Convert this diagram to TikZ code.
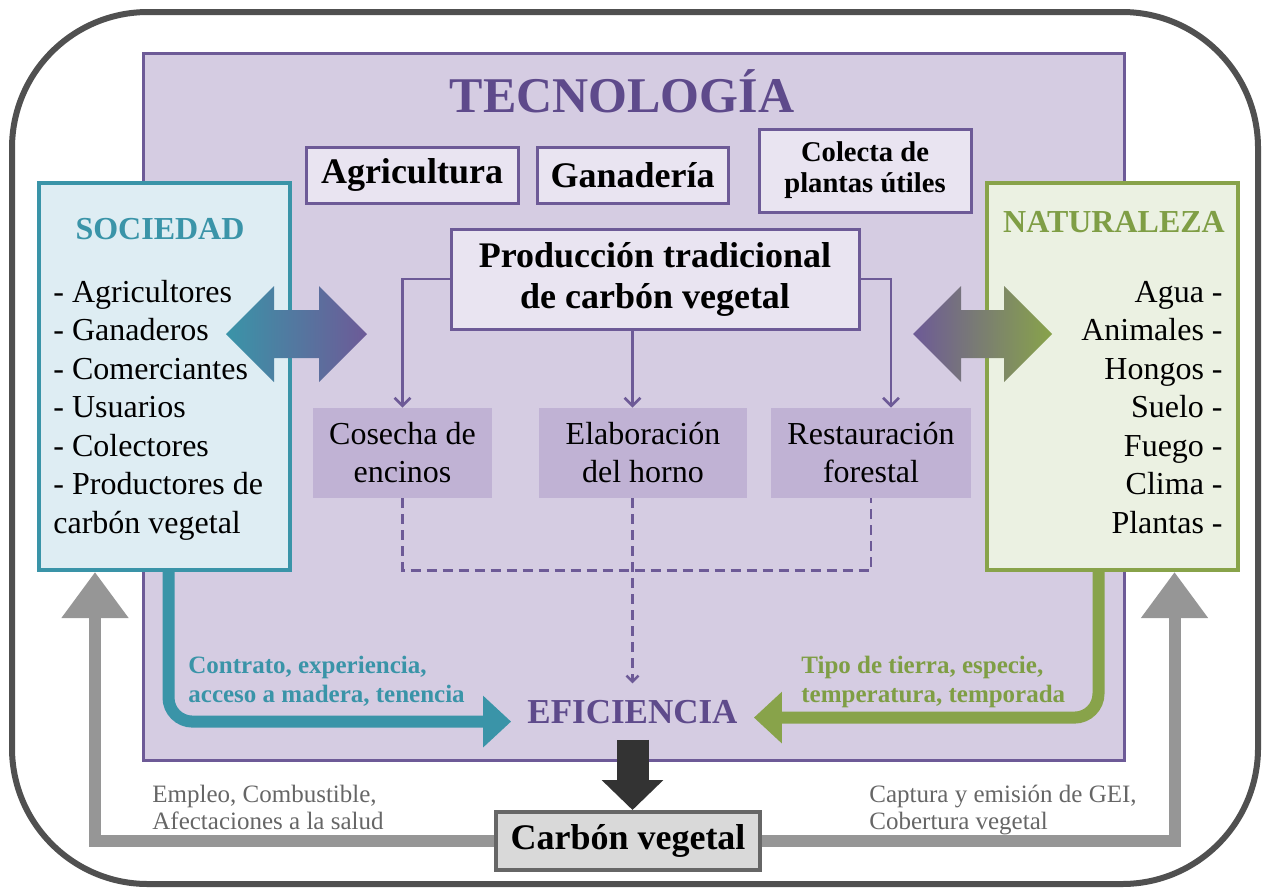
\documentclass[tikz,border=0pt]{standalone}
\usepackage{fontspec}
\setmainfont{Liberation Serif}
\usetikzlibrary{arrows.meta}

\definecolor{framegray}{HTML}{505050}
\definecolor{techfill}{HTML}{D5CCE2}
\definecolor{techline}{HTML}{6D5A97}
\definecolor{techtext}{HTML}{5E4A8B}
\definecolor{boxfill}{HTML}{E9E4F1}
\definecolor{stagefill}{HTML}{C0B2D4}
\definecolor{socfill}{HTML}{DEEDF3}
\definecolor{socline}{HTML}{3A94A8}
\definecolor{natfill}{HTML}{EBF1E2}
\definecolor{natline}{HTML}{88A34A}
\definecolor{nattext}{HTML}{7F9E45}
\definecolor{backgray}{HTML}{969696}
\definecolor{labelgray}{HTML}{666666}
\definecolor{carbonfill}{HTML}{D9D9D9}
\definecolor{carbonline}{HTML}{666666}
\definecolor{arrowblack}{HTML}{333333}

\tikzset{
  outerframe/.style={draw=framegray, line width=3pt, rounded corners=68pt},
  techarea/.style={rectangle, draw=techline, fill=techfill, line width=1.5pt},
  techtitle/.style={text=techtext, font=\fontsize{25}{28}\selectfont\bfseries},
  techbox/.style={rectangle, draw=techline, fill=boxfill, line width=1.5pt, align=center, inner sep=0pt, font=\fontsize{18}{20.5}\selectfont\bfseries},
  stagebox/.style={rectangle, fill=stagefill, align=center, inner sep=0pt, minimum height=45pt, font=\fontsize{16}{19}\selectfont},
  flowline/.style={draw=techline, line width=1.3pt, -{Straight Barb[length=4pt, width=8pt]}},
  flowdash/.style={draw=techline, line width=1.3pt, dash pattern=on 5pt off 3pt},
  effnode/.style={text=techtext, inner sep=8pt, font=\fontsize{17.5}{20}\selectfont\bfseries},
  socbox/.style={rectangle, draw=socline, fill=socfill, line width=2pt},
  natbox/.style={rectangle, draw=natline, fill=natfill, line width=2pt},
  soctitle/.style={text=socline, font=\fontsize{16}{19}\selectfont\bfseries},
  nattitle/.style={text=nattext, font=\fontsize{16}{19}\selectfont\bfseries},
  listtext/.style={inner sep=0pt, font=\fontsize{16}{19}\selectfont},
  socflow/.style={draw=socline, line width=6pt, rounded corners=12pt, -{Triangle[length=14pt, width=25pt]}},
  natflow/.style={draw=natline, line width=6pt, rounded corners=12pt, -{Triangle[length=14pt, width=25pt]}},
  soclabel/.style={text=socline, align=left, inner sep=0pt, font=\fontsize{12.5}{14.5}\selectfont\bfseries},
  natlabel/.style={text=nattext, align=left, inner sep=0pt, font=\fontsize{12.5}{14.5}\selectfont\bfseries},
  downarrow/.style={draw=arrowblack, line width=16pt, -{Triangle[length=15pt, width=30pt]}},
  carbonbox/.style={rectangle, draw=carbonline, fill=carbonfill, line width=2pt, inner sep=0pt, font=\fontsize{18}{20}\selectfont\bfseries},
  backflow/.style={draw=backgray, line width=6pt, -{Triangle[length=23pt, width=32pt]}},
  graylabel/.style={text=labelgray, align=left, inner sep=0pt, font=\fontsize{12.5}{13.5}\selectfont},
}

\begin{document}
\begin{tikzpicture}[x=0.5pt, y=-0.5pt]
  \useasboundingbox (0,0) rectangle (1267,889);
  \draw[outerframe] (12,12) rectangle (1258,884);

  % tecnologia
  \node (tech) [techarea, minimum width=490.5pt, minimum height=353.5pt] at (633.5,406.5) {};
  \node (techname) [techtitle, anchor=base] at (622,112) {TECNOLOGÍA};
  \node (agri) [techbox, minimum width=106pt, minimum height=28pt] at (412,175) {Agricultura};
  \node (gana) [techbox, minimum width=95.5pt, minimum height=28pt] at (632.5,175) {Ganadería};
  \node (colecta) [techbox, minimum width=106pt, minimum height=41.5pt, font=\fontsize{14.3}{15.5}\selectfont\bfseries] at (865,170.5) {Colecta de\\plantas útiles};
  \node (prod) [techbox, minimum width=204pt, minimum height=50pt] at (655,279) {Producción tradicional\\de carbón vegetal};
  \node (cosecha) [stagebox, minimum width=89.5pt] at (402.5,453) {Cosecha de\\encinos};
  \node (elab) [stagebox, minimum width=104pt] at (643,453) {Elaboración\\del horno};
  \node (rest) [stagebox, minimum width=100pt] at (871,453) {Restauración\\forestal};
  \node (eff) [effnode, anchor=base] at (632.5,723) {EFICIENCIA};

  \draw[flowline] (prod.west) -| (cosecha.north);
  \draw[flowline] (prod.south -| eff.north) -- (elab.north -| eff.north);
  \draw[flowline] (prod.east) -| ([xshift=10pt]rest.north);
  \draw[flowdash] (cosecha.south) -- ++(0,72) -| (rest.south);
  \draw[flowdash, -{Straight Barb[length=3pt, width=6pt]}] (elab.south -| eff.north) -- (eff.north);

  % sociedad y naturaleza
  \node (soc) [socbox, minimum width=125.5pt, minimum height=193.5pt] at (164.5,376.5) {};
  \node (socname) [soctitle] at (160,229) {SOCIEDAD};
  \foreach \txt [count=\i] in {- Agricultores, - Ganaderos, - Comerciantes, - Usuarios, - Colectores, - Productores de, carbón vegetal}
    \node (socitem\i) [listtext, anchor=base west] at (53,{302+38.5*(\i-1)}) {\txt};

  \node (nat) [natbox, minimum width=125.5pt, minimum height=193.5pt] at (1112.5,376.5) {};
  \node (natname) [nattitle] at (1114,222) {NATURALEZA};
  \foreach \txt [count=\i] in {Agua -, Animales -, Hongos -, Suelo -, Fuego -, Clima -, Plantas -}
    \node (natitem\i) [listtext, anchor=base east] at (1223,{302+38.5*(\i-1)}) {\txt};

  % flechas dobles
  \shade[left color=socline, right color=techline] (226,334) -- (274,286) -- (274,310) -- (319,310) -- (319,286) -- (367,334) -- (319,382) -- (319,358) -- (274,358) -- (274,382) -- cycle;
  \shade[left color=techline, right color=natline] (913,334) -- (961,286) -- (961,310) -- (1004,310) -- (1004,286) -- (1052,334) -- (1004,382) -- (1004,358) -- (961,358) -- (961,382) -- cycle;

  % hacia la eficiencia
  \draw[socflow] ([xshift=2pt]soc.south) |- ([yshift=-5pt]eff.west);
  \node (soclbl) [soclabel, anchor=north west] at (188,656) {Contrato, experiencia,\\acceso a madera, tenencia};
  \draw[natflow] ([xshift=-7pt]nat.south) |- ([yshift=-3pt]eff.east);
  \node (natlbl) [natlabel, anchor=north west] at (801,656) {Tipo de tierra, especie,\\temperatura, temporada};

  % carbon vegetal
  \node (carbon) [carbonbox, minimum width=132pt, minimum height=29pt] at (628,841) {Carbón vegetal};
  \draw[downarrow] (eff.south) -- (eff.south |- carbon.north);
  \draw[backflow] (carbon.west) -| ([xshift=-34.75pt]soc.south);
  \draw[backflow] (carbon.east) -| ([xshift=31pt]nat.south);
  \node (leftlbl) [graylabel, anchor=north west] at (152,785) {Empleo, Combustible,\\Afectaciones a la salud};
  \node (rightlbl) [graylabel, anchor=north west] at (869,785) {Captura y emisión de GEI,\\Cobertura vegetal};
\end{tikzpicture}
\end{document}
